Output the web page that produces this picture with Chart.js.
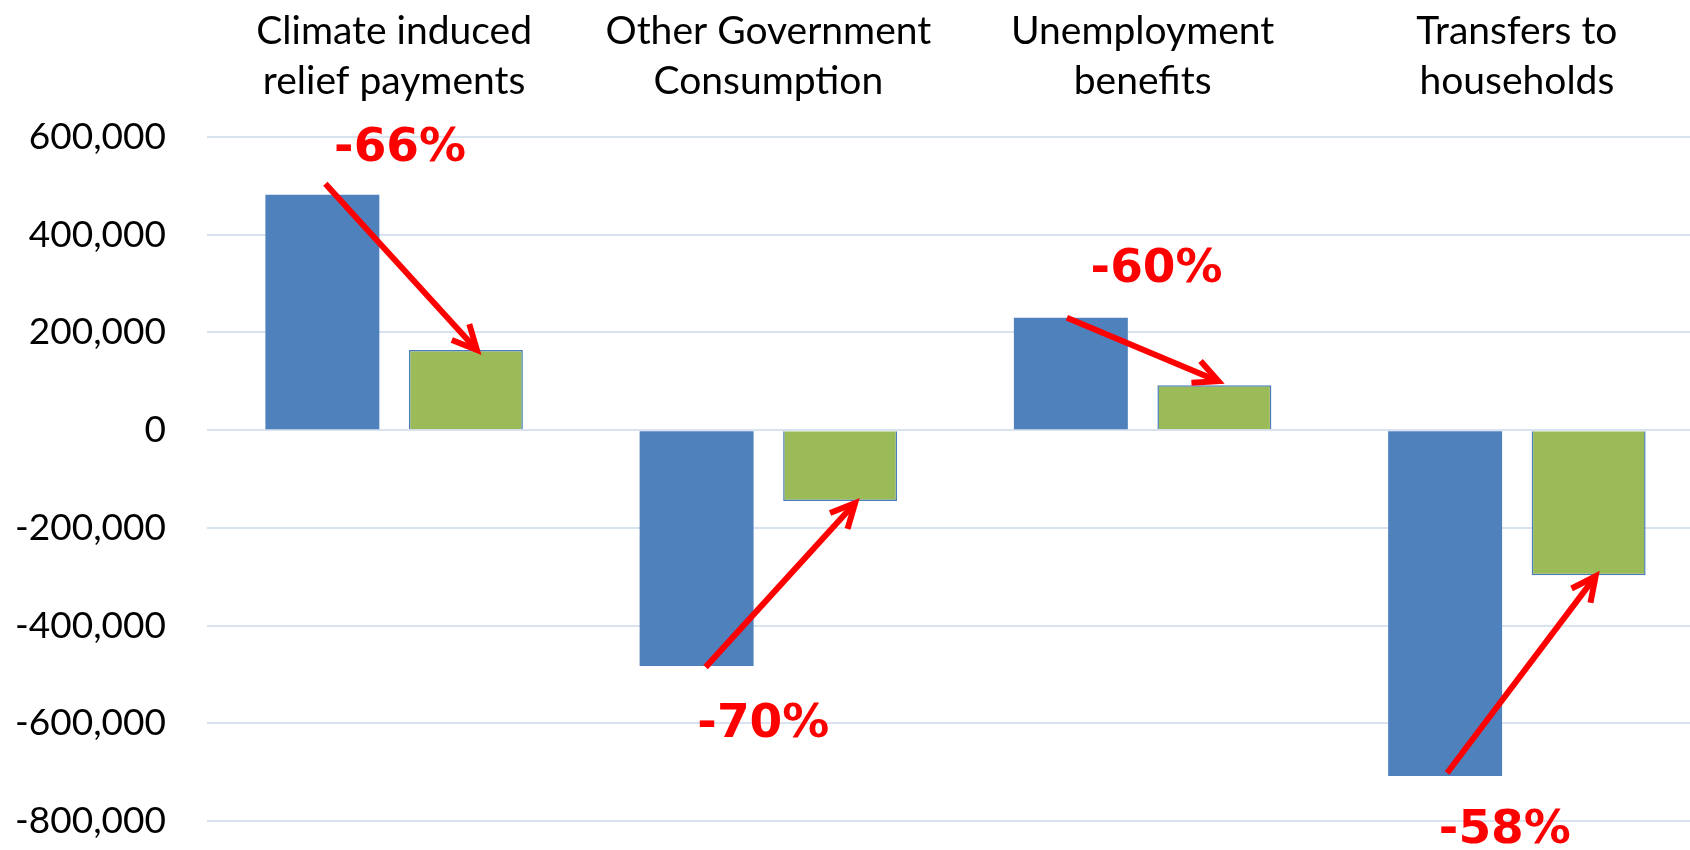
<!DOCTYPE html>
<html>
<head>
<meta charset="utf-8">
<script src="https://cdn.jsdelivr.net/npm/chart.js@4.4.0/dist/chart.umd.min.js"></script>
<style>
  html, body { margin: 0; padding: 0; background: #fff; overflow: hidden; }
  #wrap { width: 1704px; height: 850px; overflow: hidden; }
</style>
</head>
<body>
<div id="wrap"><canvas id="spendingChart" width="1704" height="850"></canvas></div>
<script>
// categories (two-line labels drawn on the top axis)
const categories = [
  ['Climate induced', 'relief payments'],
  ['Other Government', 'Consumption'],
  ['Unemployment', 'benefits'],
  ['Transfers to', 'households']
];
// first and second period values
const firstValues = [482000, -483000, 230000, -708000];
const secondValues = [164000, -145000, 92000, -297000];
// y axis ticks
const yTicks = [-800000, -600000, -400000, -200000, 0, 200000, 400000, 600000];

// arrow / label placement relative to the bars (pixels)
const arrowNotes = [
  { startDx: 3, startDy: -11, endDx: 11, endDy: 0, labelDx: 6, labelDy: -46 },
  { startDx: 9, startDy: 1, endDx: 15, endDy: 2, labelDx: -5, labelDy: 59 },
  { startDx: -4, startDy: 0, endDx: 4, endDy: -4, labelDx: 14, labelDy: -48 },
  { startDx: 2, startDy: -3, endDx: 7, endDy: 1, labelDx: -12, labelDy: 55 }
];

function drawArrow(ctx, x1, y1, x2, y2) {
  const ang = Math.atan2(y2 - y1, x2 - x1);
  const head = 27, spread = Math.PI * 26 / 180;
  ctx.beginPath();
  ctx.moveTo(x1, y1);
  ctx.lineTo(x2 - 2 * Math.cos(ang), y2 - 2 * Math.sin(ang));
  ctx.stroke();
  ctx.beginPath();
  ctx.moveTo(x2 - head * Math.cos(ang - spread), y2 - head * Math.sin(ang - spread));
  ctx.lineTo(x2, y2);
  ctx.lineTo(x2 - head * Math.cos(ang + spread), y2 - head * Math.sin(ang + spread));
  ctx.stroke();
}

// red arrows with percentage change
const changeArrows = {
  id: 'changeArrows',
  afterDatasetsDraw(chart) {
    const ctx = chart.ctx;
    const first = chart.getDatasetMeta(0).data;
    const second = chart.getDatasetMeta(1).data;
    const xScale = chart.scales.x;
    ctx.save();
    ctx.strokeStyle = '#FF0000';
    ctx.fillStyle = '#FF0000';
    ctx.lineWidth = 6;
    ctx.lineJoin = 'miter';
    ctx.lineCap = 'butt';
    arrowNotes.forEach((n, i) => {
      const a = first[i], b = second[i];
      drawArrow(ctx, a.x + n.startDx, a.y + n.startDy, b.x + n.endDx, b.y + n.endDy);
      const pct = Math.round((secondValues[i] - firstValues[i]) / firstValues[i] * 100);
      ctx.font = 'bold 47px "DejaVu Sans", sans-serif';
      ctx.textAlign = 'center';
      ctx.textBaseline = 'middle';
      ctx.fillText(pct + '%', xScale.getPixelForValue(i) + n.labelDx, a.y + n.labelDy);
    });
    ctx.restore();
  }
};

new Chart(document.getElementById('spendingChart'), {
  type: 'bar',
  data: {
    labels: categories,
    datasets: [{
      data: firstValues,
      backgroundColor: '#4F81BD',
      borderWidth: 0
    }, {
      data: secondValues,
      backgroundColor: '#9BBB59',
      borderColor: '#4A7EBB',
      borderWidth: 1.5
    }]
  },
  options: {
    responsive: false,
    animation: false,
    categoryPercentage: 0.767,
    barPercentage: 0.794,
    layout: { padding: 0 },
    plugins: {
      legend: { display: false },
      tooltip: { enabled: false }
    },
    scales: {
      x: {
        position: 'top',
        grid: { display: false },
        border: { display: false },
        ticks: {
          color: '#000',
          padding: 23,
          maxRotation: 0,
          font: { family: 'Lato, "Open Sans", sans-serif', size: 39, lineHeight: 1.282 }
        },
        afterFit(axis) { axis.height = 137; }
      },
      y: {
        min: yTicks[0],
        max: yTicks[yTicks.length - 1],
        grid: { color: '#D9E3F0', lineWidth: 2, drawTicks: false },
        border: { display: false },
        ticks: {
          stepSize: yTicks[1] - yTicks[0],
          color: '#000',
          padding: 41,
          font: { family: 'Lato, "Open Sans", sans-serif', size: 37 },
          callback: v => v.toLocaleString('en-US')
        },
        afterFit(axis) {
          axis.width = 207;
          axis.paddingTop = 0;
          axis.paddingBottom = 29;
        }
      }
    }
  },
  plugins: [changeArrows]
});
</script>
</body>
</html>
